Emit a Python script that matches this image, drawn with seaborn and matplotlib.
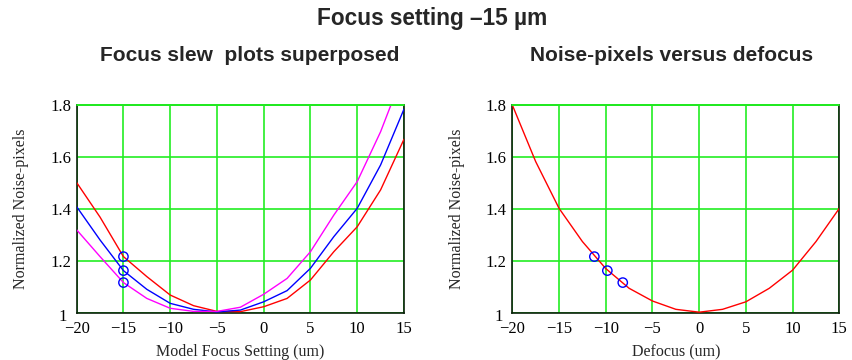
import matplotlib
matplotlib.use("Agg")
import matplotlib.pyplot as plt
import matplotlib.transforms as mtransforms
import seaborn as sns
import pandas as pd

# Model focus setting sweep (um) and normalized noise-pixels for three slews
focus_setting = [-20, -17.5, -15, -12.5, -10, -7.5, -5, -2.5, 0, 2.5, 5, 7.5, 10, 12.5, 15]
slew_red = [1.501, 1.368, 1.216, 1.139, 1.068, 1.027, 1.005, 1.004, 1.023, 1.055,
            1.126, 1.235, 1.331, 1.473, 1.668]
slew_blue = [1.408, 1.280, 1.162, 1.090, 1.036, 1.013, 1.003, 1.010, 1.042, 1.085,
             1.171, 1.293, 1.402, 1.569, 1.784]
slew_magenta = [1.319, 1.216, 1.116, 1.055, 1.017, 1.005, 1.005, 1.021, 1.071, 1.132,
                1.235, 1.376, 1.505, 1.697, 1.930]

# Noise-pixels versus defocus (um)
defocus = [-20, -17.5, -15, -12.5, -10, -7.5, -5, -2.5, 0, 2.5, 5, 7.5, 10, 12.5, 15]
noise_vs_defocus = [1.800, 1.582, 1.402, 1.274, 1.170, 1.094, 1.045, 1.013, 1.002,
                    1.013, 1.042, 1.094, 1.164, 1.274, 1.402]

# Measured points at focus setting -15 um
marker_focus = [-15, -15, -15]
marker_defocus = [-11.22, -9.83, -8.18]
marker_noise = [1.216, 1.162, 1.116]

x_ticks = [-20, -15, -10, -5, 0, 5, 10, 15]
y_ticks = [1.0, 1.2, 1.4, 1.6, 1.8]
y_tick_labels = ["1", "1.2", "1.4", "1.6", "1.8"]

sns.set_theme(style="white")
plt.rcParams["font.family"] = ["Liberation Serif", "DejaVu Serif"]
plt.rcParams["axes.unicode_minus"] = True

slews = pd.DataFrame({
    "focus": focus_setting * 3,
    "noise": slew_red + slew_blue + slew_magenta,
    "slew": ["red"] * len(focus_setting) + ["blue"] * len(focus_setting)
            + ["magenta"] * len(focus_setting),
})
curve = pd.DataFrame({"defocus": defocus, "noise": noise_vs_defocus})
pts_left = pd.DataFrame({"x": marker_focus, "y": marker_noise})
pts_right = pd.DataFrame({"x": marker_defocus, "y": marker_noise})

fig = plt.figure(figsize=(8.53, 3.6), dpi=100)
ax1 = fig.add_axes([0.0899, 0.1314, 0.3837, 0.577])
ax2 = fig.add_axes([0.6006, 0.1314, 0.3834, 0.577])

grid_green = "#22ee22"
palette = {"red": "#ff0000", "blue": "#0000ff", "magenta": "#ff00ff"}

sns.lineplot(data=slews, x="focus", y="noise", hue="slew", palette=palette,
             linewidth=1.0, legend=False, ax=ax1, zorder=3)
sns.scatterplot(data=pts_left, x="x", y="y", ax=ax1, s=45, facecolor="none",
                edgecolor="#0000ff", linewidth=1.0, zorder=4)

sns.lineplot(data=curve, x="defocus", y="noise", color="#ff0000",
             linewidth=1.0, ax=ax2, zorder=3)
sns.scatterplot(data=pts_right, x="x", y="y", ax=ax2, s=45, facecolor="none",
                edgecolor="#0000ff", linewidth=1.0, zorder=4)

for ax, xlabel in [(ax1, "Model Focus Setting (um)"), (ax2, "Defocus (um)")]:
    ax.set_xlim(-20, 15)
    ax.set_ylim(1.0, 1.8)
    ax.set_xticks(x_ticks)
    ax.set_yticks(y_ticks)
    ax.set_yticklabels(y_tick_labels)
    ax.grid(True, color=grid_green, linewidth=1.2, zorder=1)
    ax.set_axisbelow(True)
    ax.tick_params(axis="both", length=0, labelsize=12, colors="black")
    ax.tick_params(axis="x", pad=6)
    ax.tick_params(axis="y", pad=4)
    for lab in ax.get_xticklabels() + ax.get_yticklabels():
        lab.set_fontfamily(["Liberation Serif", "DejaVu Serif"])
    # the bottom "1" sits a little left of the other y labels, clear of "−20"
    first = ax.get_yticklabels()[0]
    first.set_transform(first.get_transform()
                        + mtransforms.ScaledTranslation(-4 / 100, -2 / 100,
                                                        fig.dpi_scale_trans))
    for side in ["left", "bottom", "right", "top"]:
        ax.spines[side].set_visible(True)
        ax.spines[side].set_color("#0a200a")
        ax.spines[side].set_linewidth(1.2)
    ax.axhline(1.8, color=grid_green, linewidth=1.4, zorder=5, clip_on=False)
    ax.set_xlabel(xlabel, fontsize=11.5, labelpad=5)
    ax.set_ylabel("Normalized Noise-pixels", fontsize=11.5, labelpad=15)

sans = ["Liberation Sans", "DejaVu Sans"]
fig.text(0.507, 0.95, "Focus setting \u201315 \u00b5m", ha="center", va="center",
         fontsize=16.3, fontweight="bold", family=sans)
fig.text(0.293, 0.845, "Focus slew  plots superposed", ha="center", va="center",
         fontsize=15, fontweight="bold", family=sans)
fig.text(0.787, 0.845, "Noise-pixels versus defocus", ha="center", va="center",
         fontsize=15, fontweight="bold", family=sans)

fig.savefig("out.png", dpi=100)
